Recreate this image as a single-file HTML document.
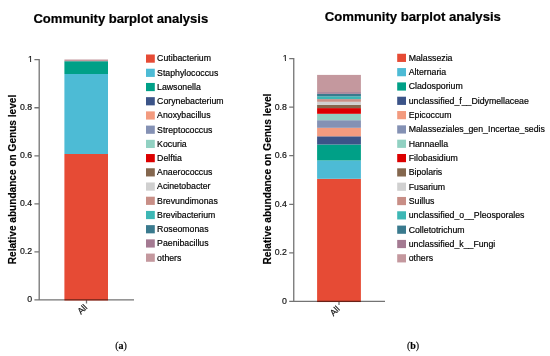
<!DOCTYPE html>
<html><head><meta charset="utf-8"><title>Community barplot analysis</title>
<style>
html,body{margin:0;padding:0;background:#fff;}
svg{display:block;will-change:transform;}
text{font-family:"Liberation Sans",Arial,sans-serif;fill:#000;}
.t{font-weight:bold;stroke:#000;stroke-width:0.2px;}
.yl{font-weight:bold;stroke:#000;stroke-width:0.15px;}
.tk{fill:#111;stroke:#111;stroke-width:0.18px;}
.lg{fill:#000;stroke:#000;stroke-width:0.18px;}
.cap{font-family:"Liberation Serif","DejaVu Serif",serif;font-size:10px;fill:#000;stroke:#000;stroke-width:0.15px;}
.ax{stroke:#000;stroke-opacity:0.55;stroke-width:1.3;fill:none;}
</style></head><body>
<svg width="550" height="356" viewBox="0 0 550 356">
<rect width="550" height="356" fill="#fff"/>

<g>
<text class="t" x="120.8" y="22.55" font-size="13.05" text-anchor="middle">Community barplot analysis</text>
<text class="yl" transform="translate(16.4,179.5) rotate(-90)" font-size="10.1" text-anchor="middle">Relative abundance on Genus level</text>
<rect x="64.4" y="154.0" width="43.60" height="146.55" fill="#E64B35"/>
<rect x="64.4" y="74.0" width="43.60" height="80.00" fill="#4DBBD5"/>
<rect x="64.4" y="61.2" width="43.60" height="12.80" fill="#00A087"/>
<rect x="64.4" y="59.5" width="43.60" height="1.70" fill="#C4989E"/>
<text class="tk" x="32.1" y="302.43" font-size="8.74" text-anchor="end">0</text>
<text class="tk" x="32.1" y="254.39" font-size="8.74" text-anchor="end">0.2</text>
<text class="tk" x="32.1" y="206.35" font-size="8.74" text-anchor="end">0.4</text>
<text class="tk" x="32.1" y="158.31" font-size="8.74" text-anchor="end">0.6</text>
<text class="tk" x="32.1" y="110.27" font-size="8.74" text-anchor="end">0.8</text>
<clipPath id="c1a"><rect x="27.04" y="53.49" width="8.74" height="7.39"/><rect x="30.15" y="60.23" width="0.96" height="3"/></clipPath>
<text class="tk" x="32.90" y="62.23" font-size="8.74" text-anchor="end" clip-path="url(#c1a)">1</text>
<path class="ax" d="M39.2 59.05V299.9M34.4 299.9H134M86.5 299.9V303.50M34.4 251.86H39.2M34.4 203.82H39.2M34.4 155.78H39.2M34.4 107.74H39.2M34.4 59.70H39.2"/>
<text class="tk" transform="translate(87.8,308.0) rotate(-45)" font-size="8.74" text-anchor="end">All</text>
<rect x="146.0" y="54.50" width="8.8" height="8.2" fill="#E64B35"/>
<text class="lg" x="157.1" y="61.48" font-size="8.74">Cutibacterium</text>
<rect x="146.0" y="68.72" width="8.8" height="8.2" fill="#4DBBD5"/>
<text class="lg" x="157.1" y="75.70" font-size="8.74">Staphylococcus</text>
<rect x="146.0" y="82.94" width="8.8" height="8.2" fill="#00A087"/>
<text class="lg" x="157.1" y="89.92" font-size="8.74">Lawsonella</text>
<rect x="146.0" y="97.16" width="8.8" height="8.2" fill="#3C5488"/>
<text class="lg" x="157.1" y="104.14" font-size="8.74">Corynebacterium</text>
<rect x="146.0" y="111.38" width="8.8" height="8.2" fill="#F39B7F"/>
<text class="lg" x="157.1" y="118.36" font-size="8.74">Anoxybacillus</text>
<rect x="146.0" y="125.60" width="8.8" height="8.2" fill="#8491B4"/>
<text class="lg" x="157.1" y="132.58" font-size="8.74">Streptococcus</text>
<rect x="146.0" y="139.82" width="8.8" height="8.2" fill="#91D1C2"/>
<text class="lg" x="157.1" y="146.80" font-size="8.74">Kocuria</text>
<rect x="146.0" y="154.04" width="8.8" height="8.2" fill="#DC0000"/>
<text class="lg" x="157.1" y="161.02" font-size="8.74">Delftia</text>
<rect x="146.0" y="168.26" width="8.8" height="8.2" fill="#84674E"/>
<text class="lg" x="157.1" y="175.24" font-size="8.74">Anaerococcus</text>
<rect x="146.0" y="182.48" width="8.8" height="8.2" fill="#D0D0D0"/>
<text class="lg" x="157.1" y="189.46" font-size="8.74">Acinetobacter</text>
<rect x="146.0" y="196.70" width="8.8" height="8.2" fill="#C88E86"/>
<text class="lg" x="157.1" y="203.68" font-size="8.74">Brevundimonas</text>
<rect x="146.0" y="210.92" width="8.8" height="8.2" fill="#3DB7B5"/>
<text class="lg" x="157.1" y="217.90" font-size="8.74">Brevibacterium</text>
<rect x="146.0" y="225.14" width="8.8" height="8.2" fill="#3A7A8E"/>
<text class="lg" x="157.1" y="232.12" font-size="8.74">Roseomonas</text>
<rect x="146.0" y="239.36" width="8.8" height="8.2" fill="#A47A92"/>
<text class="lg" x="157.1" y="246.34" font-size="8.74">Paenibacillus</text>
<rect x="146.0" y="253.58" width="8.8" height="8.2" fill="#C4989E"/>
<text class="lg" x="157.1" y="260.56" font-size="8.74">others</text>
<text class="cap" x="121" y="349.0" text-anchor="middle">(<tspan font-weight="bold">a</tspan>)</text>
</g>
<g>
<text class="t" x="412.85" y="21.0" font-size="13.17" text-anchor="middle">Community barplot analysis</text>
<text class="yl" transform="translate(271.1,179.1) rotate(-90)" font-size="10.2" text-anchor="middle">Relative abundance on Genus level</text>
<rect x="317.1" y="178.8" width="43.80" height="123.25" fill="#E64B35"/>
<rect x="317.1" y="160.5" width="43.80" height="18.30" fill="#4DBBD5"/>
<rect x="317.1" y="144.5" width="43.80" height="16.00" fill="#00A087"/>
<rect x="317.1" y="136.3" width="43.80" height="8.20" fill="#3C5488"/>
<rect x="317.1" y="127.8" width="43.80" height="8.50" fill="#F39B7F"/>
<rect x="317.1" y="120.2" width="43.80" height="7.60" fill="#8491B4"/>
<rect x="317.1" y="113.8" width="43.80" height="6.40" fill="#91D1C2"/>
<rect x="317.1" y="108.1" width="43.80" height="5.70" fill="#DC0000"/>
<rect x="317.1" y="104.8" width="43.80" height="3.30" fill="#84674E"/>
<rect x="317.1" y="101.8" width="43.80" height="3.00" fill="#D0D0D0"/>
<rect x="317.1" y="99.1" width="43.80" height="2.70" fill="#C88E86"/>
<rect x="317.1" y="96.3" width="43.80" height="2.80" fill="#3DB7B5"/>
<rect x="317.1" y="93.8" width="43.80" height="2.50" fill="#3A7A8E"/>
<rect x="317.1" y="92.1" width="43.80" height="1.70" fill="#A47A92"/>
<rect x="317.1" y="74.9" width="43.80" height="17.20" fill="#C4989E"/>
<text class="tk" x="286.9" y="303.94" font-size="8.75" text-anchor="end">0</text>
<text class="tk" x="286.9" y="255.38" font-size="8.75" text-anchor="end">0.2</text>
<text class="tk" x="286.9" y="206.82" font-size="8.75" text-anchor="end">0.4</text>
<text class="tk" x="286.9" y="158.26" font-size="8.75" text-anchor="end">0.6</text>
<text class="tk" x="286.9" y="109.70" font-size="8.75" text-anchor="end">0.8</text>
<clipPath id="c1b"><rect x="281.83" y="52.39" width="8.75" height="7.40"/><rect x="284.95" y="59.14" width="0.96" height="3"/></clipPath>
<text class="tk" x="287.70" y="61.14" font-size="8.75" text-anchor="end" clip-path="url(#c1b)">1</text>
<path class="ax" d="M293.75 57.95V301.4M289.2 301.4H385M339.0 301.4V305.00M289.2 252.84H293.75M289.2 204.28H293.75M289.2 155.72H293.75M289.2 107.16H293.75M289.2 58.60H293.75"/>
<text class="tk" transform="translate(340.3,309.5) rotate(-45)" font-size="8.75" text-anchor="end">All</text>
<rect x="397.2" y="53.75" width="8.8" height="8.2" fill="#E64B35"/>
<text class="lg" x="408.7" y="60.74" font-size="8.75">Malassezia</text>
<rect x="397.2" y="68.07" width="8.8" height="8.2" fill="#4DBBD5"/>
<text class="lg" x="408.7" y="75.06" font-size="8.75">Alternaria</text>
<rect x="397.2" y="82.39" width="8.8" height="8.2" fill="#00A087"/>
<text class="lg" x="408.7" y="89.38" font-size="8.75">Cladosporium</text>
<rect x="397.2" y="96.71" width="8.8" height="8.2" fill="#3C5488"/>
<text class="lg" x="408.7" y="103.70" font-size="8.75">unclassified_f__Didymellaceae</text>
<rect x="397.2" y="111.03" width="8.8" height="8.2" fill="#F39B7F"/>
<text class="lg" x="408.7" y="118.02" font-size="8.75">Epicoccum</text>
<rect x="397.2" y="125.35" width="8.8" height="8.2" fill="#8491B4"/>
<text class="lg" x="408.7" y="132.34" font-size="8.75">Malasseziales_gen_Incertae_sedis</text>
<rect x="397.2" y="139.67" width="8.8" height="8.2" fill="#91D1C2"/>
<text class="lg" x="408.7" y="146.66" font-size="8.75">Hannaella</text>
<rect x="397.2" y="153.99" width="8.8" height="8.2" fill="#DC0000"/>
<text class="lg" x="408.7" y="160.98" font-size="8.75">Filobasidium</text>
<rect x="397.2" y="168.31" width="8.8" height="8.2" fill="#84674E"/>
<text class="lg" x="408.7" y="175.30" font-size="8.75">Bipolaris</text>
<rect x="397.2" y="182.63" width="8.8" height="8.2" fill="#D0D0D0"/>
<text class="lg" x="408.7" y="189.62" font-size="8.75">Fusarium</text>
<rect x="397.2" y="196.95" width="8.8" height="8.2" fill="#C88E86"/>
<text class="lg" x="408.7" y="203.94" font-size="8.75">Suillus</text>
<rect x="397.2" y="211.27" width="8.8" height="8.2" fill="#3DB7B5"/>
<text class="lg" x="408.7" y="218.26" font-size="8.75">unclassified_o__Pleosporales</text>
<rect x="397.2" y="225.59" width="8.8" height="8.2" fill="#3A7A8E"/>
<text class="lg" x="408.7" y="232.58" font-size="8.75">Colletotrichum</text>
<rect x="397.2" y="239.91" width="8.8" height="8.2" fill="#A47A92"/>
<text class="lg" x="408.7" y="246.90" font-size="8.75">unclassified_k__Fungi</text>
<rect x="397.2" y="254.23" width="8.8" height="8.2" fill="#C4989E"/>
<text class="lg" x="408.7" y="261.22" font-size="8.75">others</text>
<text class="cap" x="413" y="349.0" text-anchor="middle">(<tspan font-weight="bold">b</tspan>)</text>
</g>
</svg></body></html>
